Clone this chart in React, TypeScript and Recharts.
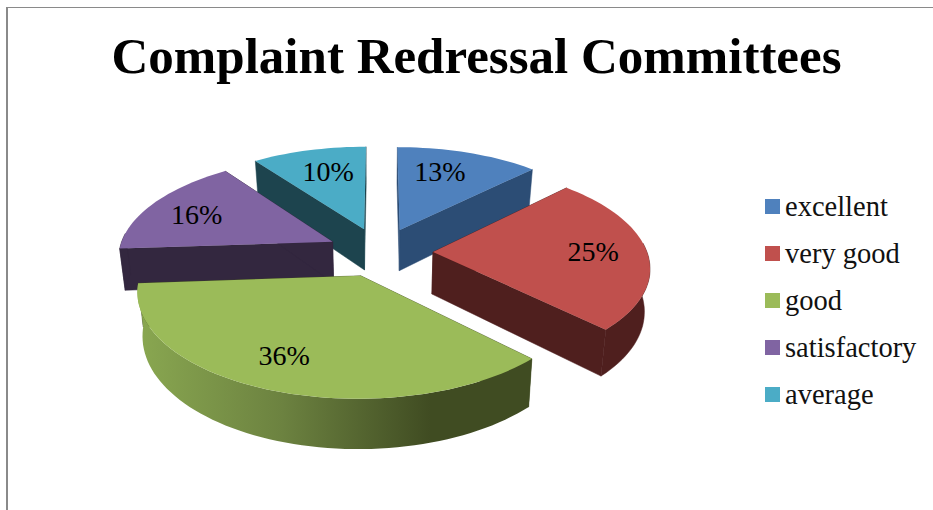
import React from "react";
import { PieChart, Pie, Legend } from "recharts";

const categories = ["excellent", "very good", "good", "satisfactory", "average"];
const values = [12.5, 25, 36.4, 16.1, 10];
const COLORS = ["#4f81bd", "#c0504d", "#9bbb59", "#8064a2", "#4bacc6"];
const WALLS = ["#2c4d75", "#4f1f1e", "#404c22", "#33273f", "#1d444e"];
// nudges of the percent labels, same order as categories
const LABEL_NUDGE = [
  [-7, -6],
  [19, -1],
  [-19, 8],
  [-16, -1],
  [2, -4],
];

// walking the pie anticlockwise from excellent paints every slice over the one it hides
const drawOrder = [0, 4, 3, 2, 1];
const total = values.reduce((sum, v) => sum + v, 0);
const START = 90 - (values[0] / total) * 360;
const data = drawOrder.map((i) => ({
  name: categories[i],
  value: values[i],
  fill: COLORS[i],
  wall: WALLS[i],
  nudge: LABEL_NUDGE[i],
}));

const FONT = "'Liberation Serif', serif";
const EXPLODE = 53;
const SQUASH = 0.4645;
const PERSP = 0.000628;
const DEPTH = 42;
const TAPER = 0.0005;

const project = (cx: number, cy: number, u: number, v: number, z = 0) => {
  const s = 1 / (1 - PERSP * v);
  return [cx + u * s * (1 - z * TAPER), cy + (v * SQUASH + z) * s];
};

const rad = (d: number) => (d * Math.PI) / 180;

const Slice3D = (props: any) => {
  const { cx, cy, outerRadius: r, startAngle, endAngle, fill, wall, name } = props;
  // clockwise degrees from the top
  const span = Math.abs(startAngle - endAngle);
  const t0 = (((90 - Math.max(startAngle, endAngle)) % 360) + 360) % 360;
  const t1 = t0 + span;
  const mid = rad((t0 + t1) / 2);
  const ou = EXPLODE * Math.sin(mid);
  const ov = -EXPLODE * Math.cos(mid);

  const rim = (t: number, z = 0) =>
    project(cx, cy, ou + r * Math.sin(rad(t)), ov - r * Math.cos(rad(t)), z);
  const apex = (z = 0) => project(cx, cy, ou, ov, z);
  const pts = (list: number[][]) =>
    list.map((p, i) => `${i ? "L" : "M"}${p[0].toFixed(1)} ${p[1].toFixed(1)}`).join(" ") + " Z";

  const arc: number[][] = [];
  for (let t = t0; t < t1; t += 2) arc.push(rim(t));
  arc.push(rim(t1));

  const cutWall = (t: number) => pts([apex(), rim(t), rim(t, DEPTH), apex(DEPTH)]);

  // front part of the outer wall, only where it faces the viewer
  const fromT = Math.max(t0, 85);
  const toT = Math.min(t1, 275);
  let rimPath = null;
  const gradId = `wall-${name.replace(" ", "-")}`;
  const isGood = name === "good";
  if (toT > fromT) {
    const upper: number[][] = [];
    const lower: number[][] = [];
    for (let t = fromT; t < toT; t += 2) {
      upper.push(rim(t));
      lower.push(rim(t, DEPTH));
    }
    upper.push(rim(toT));
    lower.push(rim(toT, DEPTH));
    rimPath = pts([...upper, ...lower.reverse()]);
  }

  return (
    <g>
      {isGood && (
        <defs>
          <linearGradient id={gradId} gradientUnits="userSpaceOnUse" x1={cx - 245} y1={0} x2={cx + 50} y2={0}>
            <stop offset="0" stopColor="#8aa851" />
            <stop offset="0.5" stopColor="#6c8240" />
            <stop offset="1" stopColor={wall} />
          </linearGradient>
        </defs>
      )}
      <path d={cutWall(t0)} fill={wall} stroke={wall} strokeWidth={0.5} />
      <path d={cutWall(t1)} fill={wall} stroke={wall} strokeWidth={0.5} />
      {rimPath && (
        <path
          d={rimPath}
          fill={isGood ? `url(#${gradId})` : wall}
          stroke={isGood ? "none" : wall}
          strokeWidth={0.5}
        />
      )}
      <path d={pts([apex(), ...arc])} fill={fill} />
    </g>
  );
};

const renderLabel = (props: any) => {
  const { cx, cy, outerRadius: r, midAngle, percent, nudge } = props;
  const a = rad(90 - midAngle);
  const dist = EXPLODE + r * 0.66;
  const [x, y] = project(cx, cy, dist * Math.sin(a), -dist * Math.cos(a));
  const n = nudge || props.payload?.nudge || [0, 0];
  return (
    <text
      x={x + n[0]}
      y={y + n[1]}
      textAnchor="middle"
      dominantBaseline="central"
      fontFamily={FONT}
      fontSize={28}
      fill="#000"
    >
      {`${Math.round(percent * 100)}%`}
    </text>
  );
};

const renderLegend = () => (
  <div style={{ fontFamily: FONT, fontSize: 28.5, color: "#111" }}>
    {categories.map((c, i) => (
      <div key={c} style={{ display: "flex", alignItems: "center", height: 47, whiteSpace: "nowrap" }}>
        <span style={{ width: 15, height: 15, background: COLORS[i], marginRight: 5, display: "inline-block" }} />
        {c}
      </div>
    ))}
  </div>
);

const App: React.FC = () => {
  return (
    <div style={{ position: "absolute", left: 0, top: 0, width: 933, height: 510, overflow: "hidden", background: "#fff" }}>
      <div
        style={{
          position: "absolute",
          left: 6,
          top: 7,
          width: 940,
          height: 520,
          borderLeft: "2px solid #8a8a8a",
          borderTop: "1px solid #8a8a8a",
        }}
      />
      <PieChart width={933} height={510} margin={{ top: 0, right: 0, bottom: 0, left: 0 }}>
        <text x={476.5} y={73} textAnchor="middle" fontFamily={FONT} fontWeight="bold" fontSize={51} fill="#000">
          Complaint Redressal Committees
        </text>
        <Pie
          data={data}
          dataKey="value"
          nameKey="name"
          cx={380}
          cy={252}
          outerRadius={214}
          startAngle={START}
          endAngle={START + 360}
          stroke="none"
          isAnimationActive={false}
          shape={Slice3D}
          label={renderLabel}
          labelLine={false}
        />
        <Legend
          content={renderLegend}
          layout="vertical"
          wrapperStyle={{ position: "absolute", left: 765, top: 183, width: 168, bottom: "auto" }}
        />
      </PieChart>
    </div>
  );
};

export default App;
